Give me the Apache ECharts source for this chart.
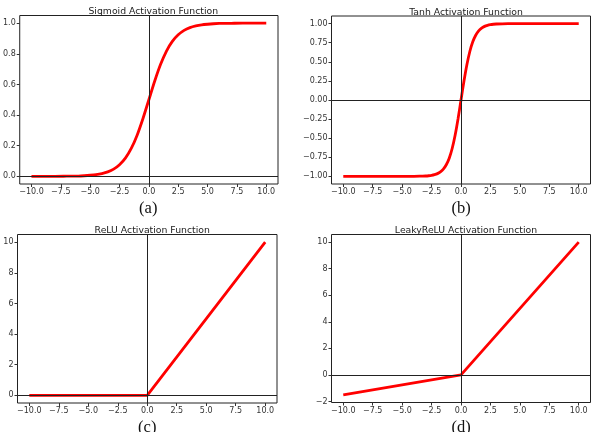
<!DOCTYPE html>
<html>
<head>
<meta charset="utf-8">
<script src="https://cdn.jsdelivr.net/npm/echarts@6/dist/echarts.min.js"></script>
<style>
  html, body { margin: 0; padding: 0; background: #fff; }
  #main { width: 591px; height: 432px; }
</style>
</head>
<body>
<div id="main"></div>
<script>
// values
const sigX = [-10, -9, -8, -7, -6, -5.5, -5, -4.5, -4, -3.5, -3, -2.5, -2, -1.5, -1, -0.5, 0,
  0.5, 1, 1.5, 2, 2.5, 3, 3.5, 4, 4.5, 5, 5.5, 6, 7, 8, 9, 10];
const sigY = [0.000, 0.000, 0.000, 0.001, 0.002, 0.004, 0.007, 0.011, 0.018, 0.029, 0.047, 0.076, 0.119, 0.182, 0.269, 0.378, 0.5,
  0.622, 0.731, 0.818, 0.881, 0.924, 0.953, 0.971, 0.982, 0.989, 0.993, 0.996, 0.998, 0.999, 1.0, 1.0, 1.0];

const tanhX = [-10, -8, -6, -5, -4, -3.5, -3, -2.75, -2.5, -2.25, -2, -1.75, -1.5, -1.25, -1, -0.75, -0.5, -0.25, 0,
  0.25, 0.5, 0.75, 1, 1.25, 1.5, 1.75, 2, 2.25, 2.5, 2.75, 3, 3.5, 4, 5, 6, 8, 10];
const tanhY = [-1.0, -1.0, -1.0, -1.0, -0.999, -0.998, -0.995, -0.992, -0.987, -0.978, -0.964, -0.941, -0.905, -0.848, -0.762, -0.635, -0.462, -0.245, 0,
  0.245, 0.462, 0.635, 0.762, 0.848, 0.905, 0.941, 0.964, 0.978, 0.987, 0.992, 0.995, 0.998, 0.999, 1.0, 1.0, 1.0, 1.0];

const reluX = [-10, 0, 10];
const reluY = [0, 0, 10];

const leakyX = [-10, 0, 10];
const leakyY = [-1.5, 0, 10];

const xTicks = [-10, -7.5, -5, -2.5, 0, 2.5, 5, 7.5, 10];
const sigTicks = [0, 0.2, 0.4, 0.6, 0.8, 1.0];
const tanhTicks = [-1, -0.75, -0.5, -0.25, 0, 0.25, 0.5, 0.75, 1];
const reluTicks = [0, 2, 4, 6, 8, 10];
const leakyTicks = [-2, 0, 2, 4, 6, 8, 10];

const titles = ["Sigmoid Activation Function", "Tanh Activation Function",
  "ReLU Activation Function", "LeakyReLU Activation Function"];
const captions = ["(a)", "(b)", "(c)", "(d)"];

// panel boxes in pixels
const boxes = [
  { left: 18.5, top: 15.5, width: 259.5, height: 168.5 },
  { left: 331.5, top: 16, width: 259, height: 168 },
  { left: 17.5, top: 234.5, width: 259.5, height: 168.5 },
  { left: 331.5, top: 234.5, width: 259, height: 168 },
];

const panels = [
  { xs: sigX, ys: sigY, yTicks: sigTicks, yMin: -0.05, yMax: 1.05, dec: 1 },
  { xs: tanhX, ys: tanhY, yTicks: tanhTicks, yMin: -1.1, yMax: 1.1, dec: 2 },
  { xs: reluX, ys: reluY, yTicks: reluTicks, yMin: -0.5, yMax: 10.5, dec: 0 },
  { xs: leakyX, ys: leakyY, yTicks: leakyTicks, yMin: -2.075, yMax: 10.575, dec: 0 },
];

function fmt(v, dec) {
  const s = Math.abs(v).toFixed(dec);
  return v < 0 ? "\u2212" + s : s;
}

const tickFont = { fontFamily: "DejaVu Sans", fontSize: 8, color: "#333" };

const grid = [], xAxis = [], yAxis = [], series = [], title = [], graphic = [];

panels.forEach(function (p, i) {
  const b = boxes[i];
  grid.push({
    left: b.left, top: b.top, width: b.width, height: b.height,
    show: true, borderColor: "#222", borderWidth: 1, backgroundColor: "transparent",
  });
  xAxis.push({
    type: "value", gridIndex: i, min: -11, max: 11,
    axisLine: { show: false, onZero: false },
    splitLine: { show: false },
    axisTick: { show: true, length: 3, customValues: xTicks, lineStyle: { color: "#333" } },
    axisLabel: Object.assign({
      margin: 4, customValues: xTicks,
      formatter: function (v) { return fmt(v, 1); },
    }, tickFont),
  });
  yAxis.push({
    type: "value", gridIndex: i, min: p.yMin, max: p.yMax,
    axisLine: { show: false, onZero: false },
    splitLine: { show: false },
    axisTick: { show: true, length: 3, customValues: p.yTicks, lineStyle: { color: "#333" } },
    axisLabel: Object.assign({
      margin: 4, customValues: p.yTicks,
      formatter: function (v) { return fmt(v, p.dec); },
    }, tickFont),
  });
  series.push({
    type: "line", xAxisIndex: i, yAxisIndex: i,
    data: p.xs.map(function (x, k) { return [x, p.ys[k]]; }),
    showSymbol: false, smooth: i < 2 ? 0.25 : false,
    lineStyle: { color: "#f00", width: 2.8 },
    markLine: {
      silent: true, symbol: "none", animation: false,
      label: { show: false },
      lineStyle: { color: "#222", width: 1, type: "solid" },
      data: [{ xAxis: 0 }, { yAxis: 0 }],
    },
  });
  title.push({
    text: titles[i],
    left: b.left + b.width / 2, top: b.top - 13, textAlign: "center",
    textStyle: { fontFamily: "DejaVu Sans", fontSize: 9.3, fontWeight: "normal", color: "#222" },
  });
  graphic.push({
    type: "text",
    x: b.left + b.width / 2, y: b.top + b.height + 25,
    style: {
      text: captions[i], fill: "#111", align: "center", verticalAlign: "middle",
      font: "16.5px 'Liberation Serif'",
    },
  });
});

const chart = echarts.init(document.getElementById("main"), null, { renderer: "canvas" });
chart.setOption({
  animation: false,
  backgroundColor: "#fff",
  title: title,
  grid: grid,
  xAxis: xAxis,
  yAxis: yAxis,
  series: series,
  graphic: graphic,
});
</script>
</body>
</html>
